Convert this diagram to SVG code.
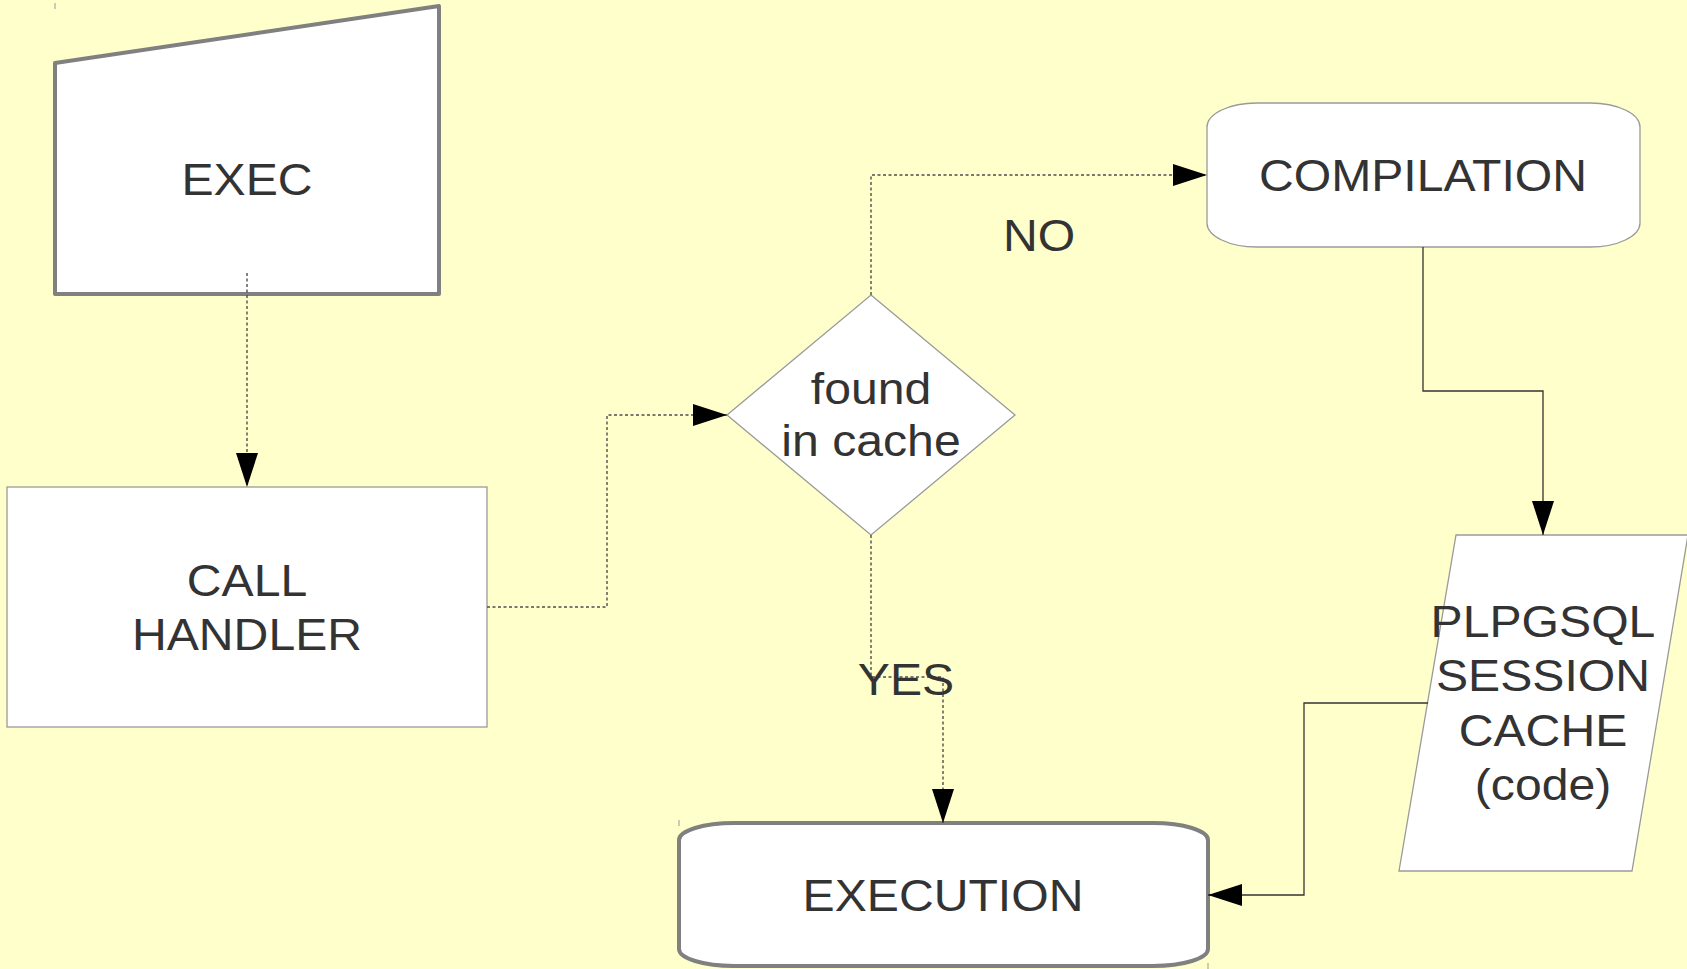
<svg xmlns="http://www.w3.org/2000/svg" width="1687" height="969" viewBox="0 0 1687 969">
  <defs>
    <style>
      .bg { fill: #ffffcc; }
      .thick { fill: #ffffff; stroke: #808080; stroke-width: 4; stroke-linejoin: round; }
      .thin { fill: #ffffff; stroke: #9a9a9a; stroke-width: 1.3; }
      .lbl { font-family: "Liberation Sans", Arial, sans-serif; font-size: 45px; fill: #333333; text-anchor: middle; }
      .dash { fill: none; stroke: #4d4d4d; stroke-width: 1.4; stroke-dasharray: 3 2.5; }
      .solid { fill: none; stroke: #333333; stroke-width: 1.3; }
      .tick { stroke: #999999; stroke-width: 1; }
    </style>
    <marker id="arrow" markerUnits="userSpaceOnUse" markerWidth="34" markerHeight="22" refX="34" refY="11" orient="auto">
      <path d="M0,0 L34,11 L0,22 Z" fill="#000000"/>
    </marker>
  </defs>

  <rect class="bg" x="0" y="0" width="1687" height="969"/>

  <!-- manual input -->
  <g id="exec">
    <polygon class="thick" points="55,63 439,6 439,294 55,294"/>
    <text class="lbl" transform="translate(247,195) scale(1.07,1)">EXEC</text>
  </g>

  <!-- process box -->
  <g id="call-handler">
    <rect class="thin" x="7" y="487" width="480" height="240"/>
    <text class="lbl" transform="translate(247,596) scale(1.07,1)">CALL</text>
    <text class="lbl" transform="translate(247,650) scale(1.07,1)">HANDLER</text>
  </g>

  <!-- decision -->
  <g id="found-in-cache">
    <polygon class="thin" points="871,295 1015,415 871,535 727,415"/>
    <text class="lbl" transform="translate(871,404) scale(1.07,1)">found</text>
    <text class="lbl" transform="translate(871,456) scale(1.07,1)">in cache</text>
  </g>

  <!-- compile step -->
  <g id="compilation">
    <path class="thin" d="M1207,127 A50,24 0 0 1 1257,103 H1590 A50,24 0 0 1 1640,127 V223 A50,24 0 0 1 1590,247 H1257 A50,24 0 0 1 1207,223 Z"/>
    <text class="lbl" transform="translate(1423,191) scale(1.07,1)">COMPILATION</text>
  </g>

  <!-- stored data -->
  <g id="session-cache">
    <polygon class="thin" points="1456,535 1688,535 1632,871 1399,871"/>
    <text class="lbl" transform="translate(1543,637) scale(1.07,1)">PLPGSQL</text>
    <text class="lbl" transform="translate(1543,691) scale(1.07,1)">SESSION</text>
    <text class="lbl" transform="translate(1543,746) scale(1.07,1)">CACHE</text>
    <text class="lbl" transform="translate(1543,800) scale(1.07,1)">(code)</text>
  </g>

  <!-- run step -->
  <g id="execution">
    <path class="thick" d="M679,840 A55,17 0 0 1 734,823 H1153 A55,17 0 0 1 1208,840 V949 A55,17 0 0 1 1153,966 H734 A55,17 0 0 1 679,949 Z"/>
    <text class="lbl" transform="translate(943,911) scale(1.07,1)">EXECUTION</text>
  </g>

  <!-- branch labels -->
  <g id="labels">
    <text class="lbl" transform="translate(1039,251) scale(1.07,1)">NO</text>
  </g>

  <!-- connectors -->
  <g id="connectors">
    <path class="dash" d="M247,273 V487" marker-end="url(#arrow)"/>
    <path class="dash" d="M487,607 H607 V415 H727" marker-end="url(#arrow)"/>
    <path class="dash" d="M871,295 V175 H1207" marker-end="url(#arrow)"/>
    <path class="dash" d="M871,535 V677 H943 V823" marker-end="url(#arrow)"/>
    <path class="solid" d="M1423,247 V391 H1543 V535" marker-end="url(#arrow)"/>
    <path class="solid" d="M1428,703 H1304 V895 H1208" marker-end="url(#arrow)"/>
  </g>

  <g id="yes-label">
    <text class="lbl" transform="translate(906,695) scale(1.07,1)">YES</text>
  </g>

  <!-- bounding-box corner ticks -->
  <g id="ticks">
    <line class="tick" x1="55" y1="3" x2="55" y2="9"/>
    <line class="tick" x1="679" y1="820" x2="679" y2="826"/>
    <line class="tick" x1="1208" y1="963" x2="1208" y2="969"/>
  </g>
</svg>
